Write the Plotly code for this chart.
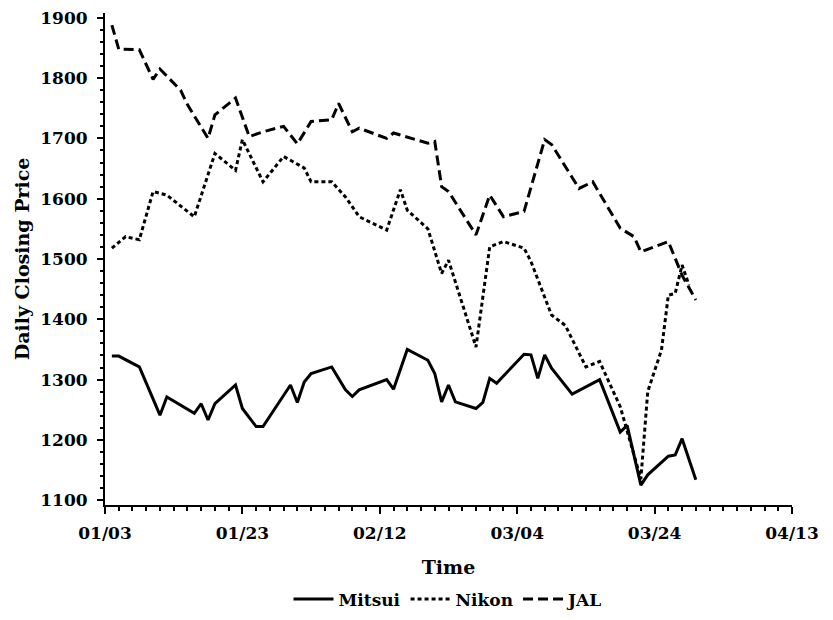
import plotly.graph_objects as go
from datetime import date, timedelta

# ---- data (days counted from 1990-01-03) ----
BASE_DATE = "1990-01-03"

mitsui_days = [1, 2, 5, 6, 8, 9, 13, 14, 15, 16, 19, 20, 22, 23, 27, 28, 29, 30, 33, 35,
               36, 37, 41, 42, 44, 47, 48, 49, 50, 51, 54, 55, 56, 57, 61, 62, 63, 64, 65, 68,
               72, 75, 76, 78, 79, 82, 83, 84, 86]
mitsui_vals = [1339, 1339, 1321, 1294, 1241, 1271, 1244, 1260, 1233, 1260, 1291, 1252, 1222, 1222, 1291, 1262, 1296, 1310, 1321, 1283,
               1272, 1283, 1300, 1284, 1350, 1332, 1310, 1263, 1291, 1263, 1252, 1262, 1302, 1294, 1342, 1341, 1302, 1341, 1319, 1276,
               1300, 1213, 1224, 1125, 1142, 1173, 1175, 1202, 1134]

nikon_days = [1, 3, 5, 7, 9, 13, 16, 19, 20, 23, 26, 29, 30, 33, 35, 37, 41, 43, 44, 47,
              49, 50, 54, 56, 58, 61, 62, 65, 67, 70, 72, 75, 78, 79, 81, 82, 83, 84, 85]
nikon_vals = [1518, 1537, 1532, 1612, 1606, 1570, 1675, 1647, 1698, 1628, 1670, 1651, 1628, 1628, 1603, 1570, 1548, 1615, 1581, 1550,
              1476, 1498, 1354, 1520, 1529, 1518, 1496, 1407, 1390, 1321, 1330, 1255, 1135, 1280, 1349, 1440, 1443, 1490, 1457]

jal_days = [1, 2, 5, 7, 8, 11, 12, 15, 16, 19, 21, 23, 26, 28, 30, 33, 34, 36, 37, 41,
            42, 47, 48, 49, 50, 54, 56, 58, 61, 64, 65, 69, 71, 75, 77, 78, 82, 84, 86]
jal_vals = [1888, 1848, 1847, 1798, 1815, 1780, 1756, 1700, 1739, 1767, 1703, 1711, 1720, 1691, 1728, 1731, 1758, 1711, 1717, 1700,
            1709, 1692, 1695, 1620, 1612, 1540, 1606, 1570, 1579, 1698, 1690, 1617, 1628, 1551, 1537, 1512, 1529, 1473, 1432]

y_ticks = [1100, 1200, 1300, 1400, 1500, 1600, 1700, 1800, 1900]
x_tick_labels = ["01/03", "01/23", "02/12", "03/04", "03/24", "04/13"]

base = date.fromisoformat(BASE_DATE)


def to_dates(days):
    return [(base + timedelta(days=d)).isoformat() for d in days]


x_tick_vals = [(base + timedelta(days=20 * i)).isoformat() for i in range(len(x_tick_labels))]

FONT = "DejaVu Serif"

fig = go.Figure()
fig.add_trace(go.Scatter(x=to_dates(mitsui_days), y=mitsui_vals, name="Mitsui", mode="lines",
                         line=dict(color="black", width=3, dash="solid")))
fig.add_trace(go.Scatter(x=to_dates(nikon_days), y=nikon_vals, name="Nikon", mode="lines",
                         line=dict(color="black", width=3, dash="4px,3px")))
fig.add_trace(go.Scatter(x=to_dates(jal_days), y=jal_vals, name="JAL", mode="lines",
                         line=dict(color="black", width=3, dash="10px,5px")))

fig.update_layout(
    width=833, height=620,
    margin=dict(l=105, r=41, t=13, b=115, autoexpand=False),
    paper_bgcolor="white", plot_bgcolor="white",
    font=dict(family=FONT, size=16, color="black", weight="bold"),
    showlegend=True,
    legend=dict(orientation="h", xref="paper", x=0.5, xanchor="center",
                yref="container", y=0.033, yanchor="middle",
                font=dict(family=FONT, size=17, color="black", weight="bold"),
                itemwidth=40, bgcolor="rgba(0,0,0,0)"),
)

fig.update_xaxes(
    type="date",
    range=[x_tick_vals[0], x_tick_vals[-1]],
    tickmode="array", tickvals=x_tick_vals, ticktext=x_tick_labels,
    ticks="outside", ticklen=7, tickwidth=2, tickcolor="black",
    ticklabelstandoff=5,
    minor=dict(dtick=2 * 86400000, tick0=BASE_DATE, ticks="outside", ticklen=4, tickwidth=1.5, tickcolor="black"),
    showline=True, linecolor="black", linewidth=2,
    showgrid=False, zeroline=False,
    tickfont=dict(family=FONT, size=17, color="black", weight="bold"),
    title=dict(text="Time", font=dict(family=FONT, size=19, color="black", weight="bold"), standoff=18),
)

fig.update_yaxes(
    range=[1092, 1908],
    tickmode="array", tickvals=y_ticks, ticktext=[str(v) for v in y_ticks],
    ticks="outside", ticklen=6, tickwidth=2, tickcolor="black",
    ticklabelstandoff=6,
    minor=dict(dtick=20, tick0=1100, ticks="outside", ticklen=3, tickwidth=1.5, tickcolor="black"),
    showline=True, linecolor="black", linewidth=2,
    showgrid=False, zeroline=False,
    tickfont=dict(family=FONT, size=17, color="black", weight="bold"),
    title=dict(text="Daily Closing Price", font=dict(family=FONT, size=19, color="black", weight="bold"), standoff=6),
)

fig.write_html("out.html")
